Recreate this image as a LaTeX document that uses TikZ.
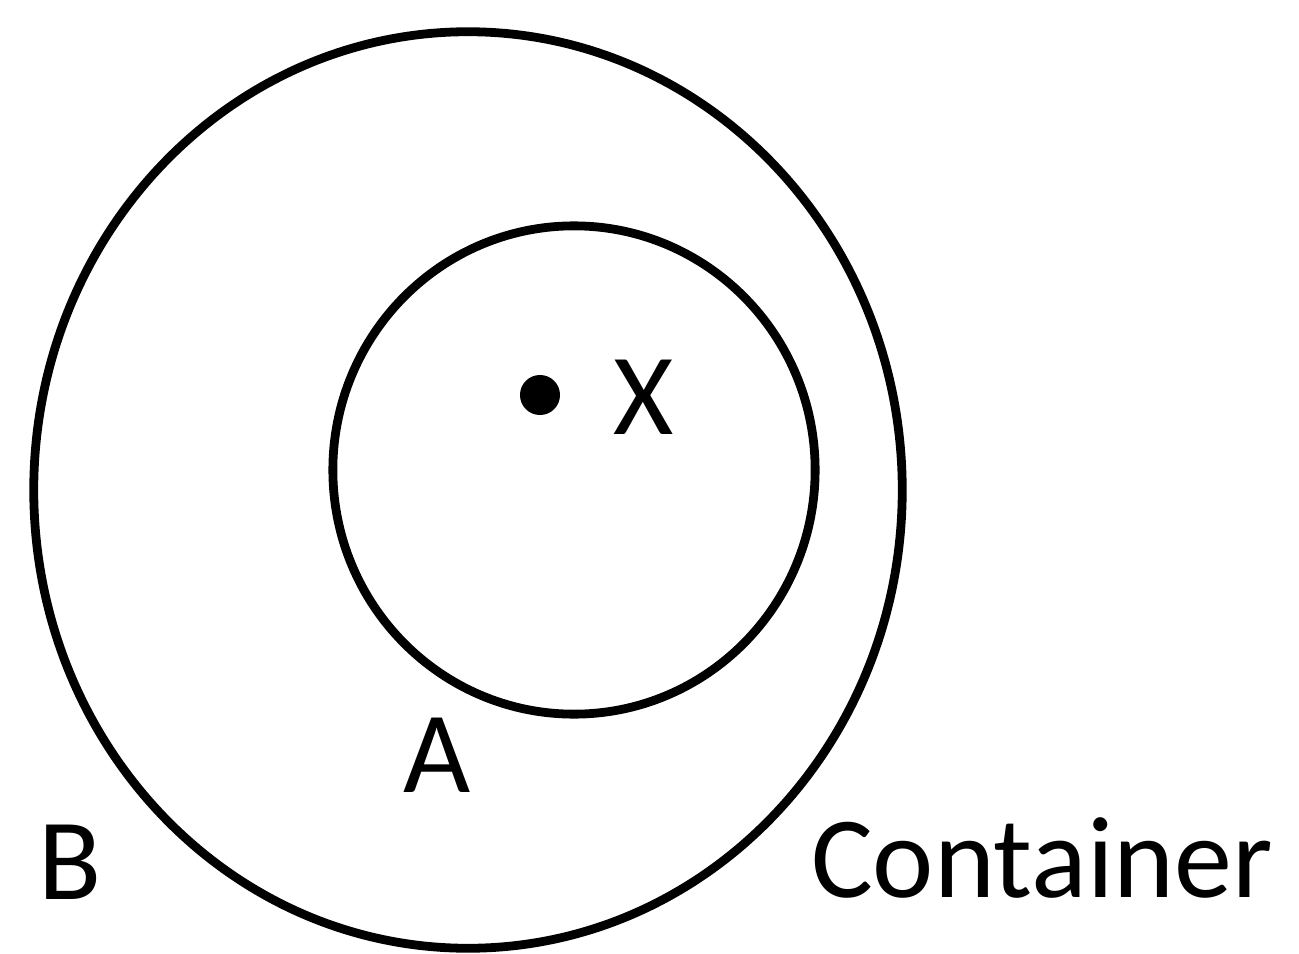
\documentclass[tikz,border=0pt]{standalone}
\usepackage{fontspec}
\setmainfont{Carlito}
\usetikzlibrary{shapes.geometric}
\begin{document}
\begin{tikzpicture}[x=0.01cm,y=-0.01cm,
  ring/.style={draw=black,line width=2.5pt,ellipse,inner sep=0pt},
  lbl/.style={font=\fontsize{33}{36}\selectfont,inner sep=0pt}]
\useasboundingbox (0,0) rectangle (1299,954);
\node[ring,minimum width=8.68cm,minimum height=9.16cm] (B) at (468,490) {};
\node[ring,minimum width=4.82cm,minimum height=4.88cm] (A) at (574,470) {};
\node[circle,fill=black,minimum size=0.4cm,inner sep=0pt] (x) at (540,395) {};
\node[lbl] (xl) at (644,397) {X};
\node[lbl] (al) at (437,755) {A};
\node[lbl] (bl) at (70,862) {B};
\node[lbl] (cl) at (1042,858) {Container};
\end{tikzpicture}
\end{document}
